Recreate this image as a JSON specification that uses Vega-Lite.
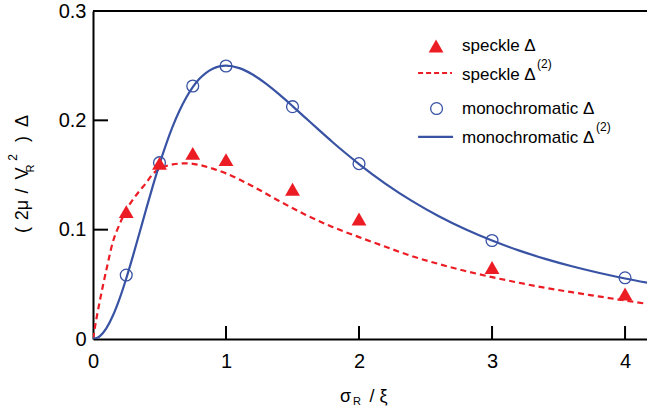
{
  "$schema": "https://vega.github.io/schema/vega-lite/v6.json",
  "width": 554,
  "height": 328,
  "autosize": {"type": "none"},
  "padding": {"left": 93, "top": 11, "right": 0, "bottom": 73},
  "background": "white",
  "config": {
    "view": {"stroke": null},
    "font": "Liberation Sans",
    "axisX": {
      "title": null, "grid": false, "ticks": false,
      "domainColor": "black", "domainWidth": 2,
      "labelFontSize": 20, "labelColor": "black", "labelPadding": 12, "labelFlush": false, "labelOverlap": false
    },
    "axisY": {
      "title": null, "grid": false, "ticks": false,
      "domainColor": "black", "domainWidth": 2,
      "labelFontSize": 20, "labelColor": "black", "labelPadding": 7, "labelFlush": false, "labelOverlap": false
    }
  },
  "datasets": {
    "xTicks": [{"x": 1, "y": 0}, {"x": 2, "y": 0}, {"x": 3, "y": 0}, {"x": 4, "y": 0}],
    "yTicks": [{"x": 0, "y": 0.1}, {"x": 0, "y": 0.2}, {"x": 0, "y": 0.3}],
    "speckleCurve": [
      {"x": 0, "y": 0}, {"x": 0.025, "y": 0.018}, {"x": 0.05, "y": 0.034}, {"x": 0.075, "y": 0.049},
      {"x": 0.1, "y": 0.063}, {"x": 0.15, "y": 0.089}, {"x": 0.2, "y": 0.105}, {"x": 0.25, "y": 0.118},
      {"x": 0.3, "y": 0.1275}, {"x": 0.35, "y": 0.1355}, {"x": 0.4, "y": 0.1428}, {"x": 0.45, "y": 0.151},
      {"x": 0.5, "y": 0.1555}, {"x": 0.6, "y": 0.1597}, {"x": 0.7, "y": 0.1607}, {"x": 0.8, "y": 0.1592},
      {"x": 0.9, "y": 0.1558}, {"x": 1.0, "y": 0.1515}, {"x": 1.2, "y": 0.1397}, {"x": 1.4, "y": 0.1262},
      {"x": 1.6, "y": 0.1135}, {"x": 1.8, "y": 0.1025}, {"x": 2.0, "y": 0.0932}, {"x": 2.2, "y": 0.0843},
      {"x": 2.4, "y": 0.0757}, {"x": 2.6, "y": 0.0686}, {"x": 2.8, "y": 0.0622}, {"x": 3.0, "y": 0.0566},
      {"x": 3.2, "y": 0.0515}, {"x": 3.4, "y": 0.0468}, {"x": 3.6, "y": 0.0428}, {"x": 3.8, "y": 0.039},
      {"x": 4.0, "y": 0.0352}, {"x": 4.2, "y": 0.0315}
    ],
    "monoCurve": [
      {"x": 0, "y": 0}, {"x": 0.05, "y": 0.00249}, {"x": 0.1, "y": 0.0098}, {"x": 0.15, "y": 0.02152},
      {"x": 0.2, "y": 0.03698}, {"x": 0.25, "y": 0.05536}, {"x": 0.3, "y": 0.07575}, {"x": 0.35, "y": 0.09722},
      {"x": 0.4, "y": 0.11891}, {"x": 0.45, "y": 0.14004}, {"x": 0.5, "y": 0.16}, {"x": 0.55, "y": 0.17831},
      {"x": 0.6, "y": 0.19464}, {"x": 0.65, "y": 0.2088}, {"x": 0.7, "y": 0.22071}, {"x": 0.75, "y": 0.2304},
      {"x": 0.8, "y": 0.23795}, {"x": 0.85, "y": 0.24351}, {"x": 0.9, "y": 0.24725}, {"x": 0.95, "y": 0.24934},
      {"x": 1.0, "y": 0.25}, {"x": 1.1, "y": 0.24774}, {"x": 1.2, "y": 0.24187}, {"x": 1.3, "y": 0.23355},
      {"x": 1.4, "y": 0.2237}, {"x": 1.5, "y": 0.21302}, {"x": 1.6, "y": 0.20199}, {"x": 1.7, "y": 0.19099},
      {"x": 1.8, "y": 0.18022}, {"x": 1.9, "y": 0.16987}, {"x": 2.0, "y": 0.16}, {"x": 2.2, "y": 0.14191},
      {"x": 2.4, "y": 0.12605}, {"x": 2.6, "y": 0.11226}, {"x": 2.8, "y": 0.10033}, {"x": 3.0, "y": 0.09},
      {"x": 3.2, "y": 0.08105}, {"x": 3.4, "y": 0.07328}, {"x": 3.6, "y": 0.0665}, {"x": 3.8, "y": 0.06057},
      {"x": 4.0, "y": 0.05536}, {"x": 4.2, "y": 0.05077}
    ],
    "speckle": [
      {"x": 0.25, "y": 0.1165}, {"x": 0.5, "y": 0.1607}, {"x": 0.75, "y": 0.1698}, {"x": 1, "y": 0.164},
      {"x": 1.5, "y": 0.137}, {"x": 2, "y": 0.1098}, {"x": 3, "y": 0.0654}, {"x": 4, "y": 0.0412}
    ],
    "mono": [
      {"x": 0.25, "y": 0.0585}, {"x": 0.5, "y": 0.1613}, {"x": 0.75, "y": 0.2314}, {"x": 1, "y": 0.2497},
      {"x": 1.5, "y": 0.2125}, {"x": 2, "y": 0.1604}, {"x": 3, "y": 0.0901}, {"x": 4, "y": 0.056}
    ],
    "one": [{}]
  },
  "layer": [
    {
      "data": {"name": "speckleCurve"},
      "mark": {"type": "line", "color": "#ec1c24", "strokeWidth": 2.2, "strokeDash": [6, 4], "interpolate": "monotone", "clip": true},
      "encoding": {
        "x": {"field": "x", "type": "quantitative", "title": null,
              "scale": {"domain": [0, 4.165], "nice": false, "zero": false},
              "axis": {"values": [0, 1, 2, 3, 4], "format": "d"}},
        "y": {"field": "y", "type": "quantitative", "title": null,
              "scale": {"domain": [0, 0.3], "nice": false, "zero": false},
              "axis": {"values": [0, 0.1, 0.2, 0.3], "format": "~g"}}
      }
    },
    {
      "data": {"name": "xTicks"},
      "mark": {"type": "point", "shape": "M0,0V-2", "filled": false, "color": "black", "strokeWidth": 2, "size": 169, "opacity": 1},
      "encoding": {
        "x": {"field": "x", "type": "quantitative", "title": null},
        "y": {"field": "y", "type": "quantitative", "title": null}
      }
    },
    {
      "data": {"name": "yTicks"},
      "mark": {"type": "point", "shape": "M0,0H2", "filled": false, "color": "black", "strokeWidth": 2, "size": 225, "opacity": 1},
      "encoding": {
        "x": {"field": "x", "type": "quantitative", "title": null},
        "y": {"field": "y", "type": "quantitative", "title": null}
      }
    },
    {
      "data": {"name": "monoCurve"},
      "mark": {"type": "line", "color": "#3953a4", "strokeWidth": 2.2, "interpolate": "monotone", "clip": true},
      "encoding": {
        "x": {"field": "x", "type": "quantitative", "title": null},
        "y": {"field": "y", "type": "quantitative", "title": null}
      }
    },
    {
      "data": {"name": "mono"},
      "mark": {"type": "point", "shape": "circle", "filled": false, "color": "#3953a4", "strokeWidth": 1.3, "size": 140, "opacity": 1},
      "encoding": {
        "x": {"field": "x", "type": "quantitative", "title": null},
        "y": {"field": "y", "type": "quantitative", "title": null}
      }
    },
    {
      "data": {"name": "speckle"},
      "mark": {"type": "point", "shape": "triangle-up", "filled": true, "color": "#ec1c24", "size": 220, "opacity": 1},
      "encoding": {
        "x": {"field": "x", "type": "quantitative", "title": null},
        "y": {"field": "y", "type": "quantitative", "title": null}
      }
    },
    {
      "data": {"name": "one"},
      "mark": {"type": "rule", "color": "black", "strokeWidth": 2},
      "encoding": {"y": {"datum": 0.3, "type": "quantitative", "title": null}}
    },
    {
      "data": {"name": "one"},
      "mark": {"type": "point", "shape": "triangle-up", "filled": true, "color": "#ec1c24", "size": 220, "opacity": 1},
      "encoding": {"x": {"datum": 2.579, "type": "quantitative", "title": null}, "y": {"datum": 0.268, "type": "quantitative", "title": null}}
    },
    {
      "data": {"name": "one"},
      "mark": {"type": "text", "text": "speckle Δ", "align": "left", "baseline": "alphabetic", "fontSize": 17, "color": "black"},
      "encoding": {"x": {"datum": 2.774, "type": "quantitative", "title": null}, "y": {"datum": 0.2634, "type": "quantitative", "title": null}}
    },
    {
      "data": {"name": "one"},
      "mark": {"type": "rule", "color": "#ec1c24", "strokeWidth": 2, "strokeDash": [5, 3]},
      "encoding": {
        "x": {"datum": 2.444, "type": "quantitative", "title": null}, "x2": {"datum": 2.699},
        "y": {"datum": 0.2433, "type": "quantitative", "title": null}
      }
    },
    {
      "data": {"name": "one"},
      "mark": {"type": "text", "text": "speckle Δ", "align": "left", "baseline": "alphabetic", "fontSize": 17, "color": "black"},
      "encoding": {"x": {"datum": 2.774, "type": "quantitative", "title": null}, "y": {"datum": 0.2369, "type": "quantitative", "title": null}}
    },
    {
      "data": {"name": "one"},
      "mark": {"type": "text", "text": "(2)", "align": "left", "baseline": "alphabetic", "fontSize": 12, "color": "black"},
      "encoding": {"x": {"datum": 3.338, "type": "quantitative", "title": null}, "y": {"datum": 0.2479, "type": "quantitative", "title": null}}
    },
    {
      "data": {"name": "one"},
      "mark": {"type": "point", "shape": "circle", "filled": false, "color": "#3953a4", "strokeWidth": 1.3, "size": 140, "opacity": 1},
      "encoding": {"x": {"datum": 2.583, "type": "quantitative", "title": null}, "y": {"datum": 0.2108, "type": "quantitative", "title": null}}
    },
    {
      "data": {"name": "one"},
      "mark": {"type": "text", "text": "monochromatic Δ", "align": "left", "baseline": "alphabetic", "fontSize": 17, "color": "black"},
      "encoding": {"x": {"datum": 2.774, "type": "quantitative", "title": null}, "y": {"datum": 0.2058, "type": "quantitative", "title": null}}
    },
    {
      "data": {"name": "one"},
      "mark": {"type": "rule", "color": "#3953a4", "strokeWidth": 2.2},
      "encoding": {
        "x": {"datum": 2.444, "type": "quantitative", "title": null}, "x2": {"datum": 2.707},
        "y": {"datum": 0.1848, "type": "quantitative", "title": null}
      }
    },
    {
      "data": {"name": "one"},
      "mark": {"type": "text", "text": "monochromatic Δ", "align": "left", "baseline": "alphabetic", "fontSize": 17, "color": "black"},
      "encoding": {"x": {"datum": 2.774, "type": "quantitative", "title": null}, "y": {"datum": 0.1793, "type": "quantitative", "title": null}}
    },
    {
      "data": {"name": "one"},
      "mark": {"type": "text", "text": "(2)", "align": "left", "baseline": "alphabetic", "fontSize": 12, "color": "black"},
      "encoding": {"x": {"datum": 3.782, "type": "quantitative", "title": null}, "y": {"datum": 0.1902, "type": "quantitative", "title": null}}
    },
    {
      "data": {"name": "one"},
      "mark": {"type": "text", "text": "σ", "align": "center", "baseline": "alphabetic", "fontSize": 18, "color": "black"},
      "encoding": {"x": {"datum": 1.898, "type": "quantitative", "title": null}, "y": {"datum": -0.0576, "type": "quantitative", "title": null}}
    },
    {
      "data": {"name": "one"},
      "mark": {"type": "text", "text": "R", "align": "center", "baseline": "alphabetic", "fontSize": 11, "color": "black"},
      "encoding": {"x": {"datum": 1.985, "type": "quantitative", "title": null}, "y": {"datum": -0.0608, "type": "quantitative", "title": null}}
    },
    {
      "data": {"name": "one"},
      "mark": {"type": "text", "text": "/ ξ", "align": "center", "baseline": "alphabetic", "fontSize": 18, "color": "black"},
      "encoding": {"x": {"datum": 2.147, "type": "quantitative", "title": null}, "y": {"datum": -0.0576, "type": "quantitative", "title": null}}
    },
    {
      "data": {"name": "one"},
      "mark": {"type": "text", "text": "(", "angle": 270, "align": "center", "baseline": "alphabetic", "fontSize": 18, "color": "black"},
      "encoding": {"x": {"datum": -0.4887, "type": "quantitative", "title": null}, "y": {"datum": 0.0997, "type": "quantitative", "title": null}}
    },
    {
      "data": {"name": "one"},
      "mark": {"type": "text", "text": "2μ", "angle": 270, "align": "center", "baseline": "alphabetic", "fontSize": 18, "color": "black"},
      "encoding": {"x": {"datum": -0.4887, "type": "quantitative", "title": null}, "y": {"datum": 0.118, "type": "quantitative", "title": null}}
    },
    {
      "data": {"name": "one"},
      "mark": {"type": "text", "text": "/", "angle": 270, "align": "center", "baseline": "alphabetic", "fontSize": 18, "color": "black"},
      "encoding": {"x": {"datum": -0.4887, "type": "quantitative", "title": null}, "y": {"datum": 0.1354, "type": "quantitative", "title": null}}
    },
    {
      "data": {"name": "one"},
      "mark": {"type": "text", "text": "V", "angle": 270, "align": "center", "baseline": "alphabetic", "fontSize": 18, "color": "black"},
      "encoding": {"x": {"datum": -0.4887, "type": "quantitative", "title": null}, "y": {"datum": 0.1514, "type": "quantitative", "title": null}}
    },
    {
      "data": {"name": "one"},
      "mark": {"type": "text", "text": "R", "angle": 270, "align": "center", "baseline": "alphabetic", "fontSize": 11, "color": "black"},
      "encoding": {"x": {"datum": -0.4436, "type": "quantitative", "title": null}, "y": {"datum": 0.156, "type": "quantitative", "title": null}}
    },
    {
      "data": {"name": "one"},
      "mark": {"type": "text", "text": "2", "angle": 270, "align": "center", "baseline": "alphabetic", "fontSize": 12, "color": "black"},
      "encoding": {"x": {"datum": -0.5714, "type": "quantitative", "title": null}, "y": {"datum": 0.166, "type": "quantitative", "title": null}}
    },
    {
      "data": {"name": "one"},
      "mark": {"type": "text", "text": ")", "angle": 270, "align": "center", "baseline": "alphabetic", "fontSize": 18, "color": "black"},
      "encoding": {"x": {"datum": -0.4887, "type": "quantitative", "title": null}, "y": {"datum": 0.1829, "type": "quantitative", "title": null}}
    },
    {
      "data": {"name": "one"},
      "mark": {"type": "text", "text": "Δ", "angle": 270, "align": "center", "baseline": "alphabetic", "fontSize": 18, "color": "black"},
      "encoding": {"x": {"datum": -0.4887, "type": "quantitative", "title": null}, "y": {"datum": 0.1994, "type": "quantitative", "title": null}}
    }
  ]
}
